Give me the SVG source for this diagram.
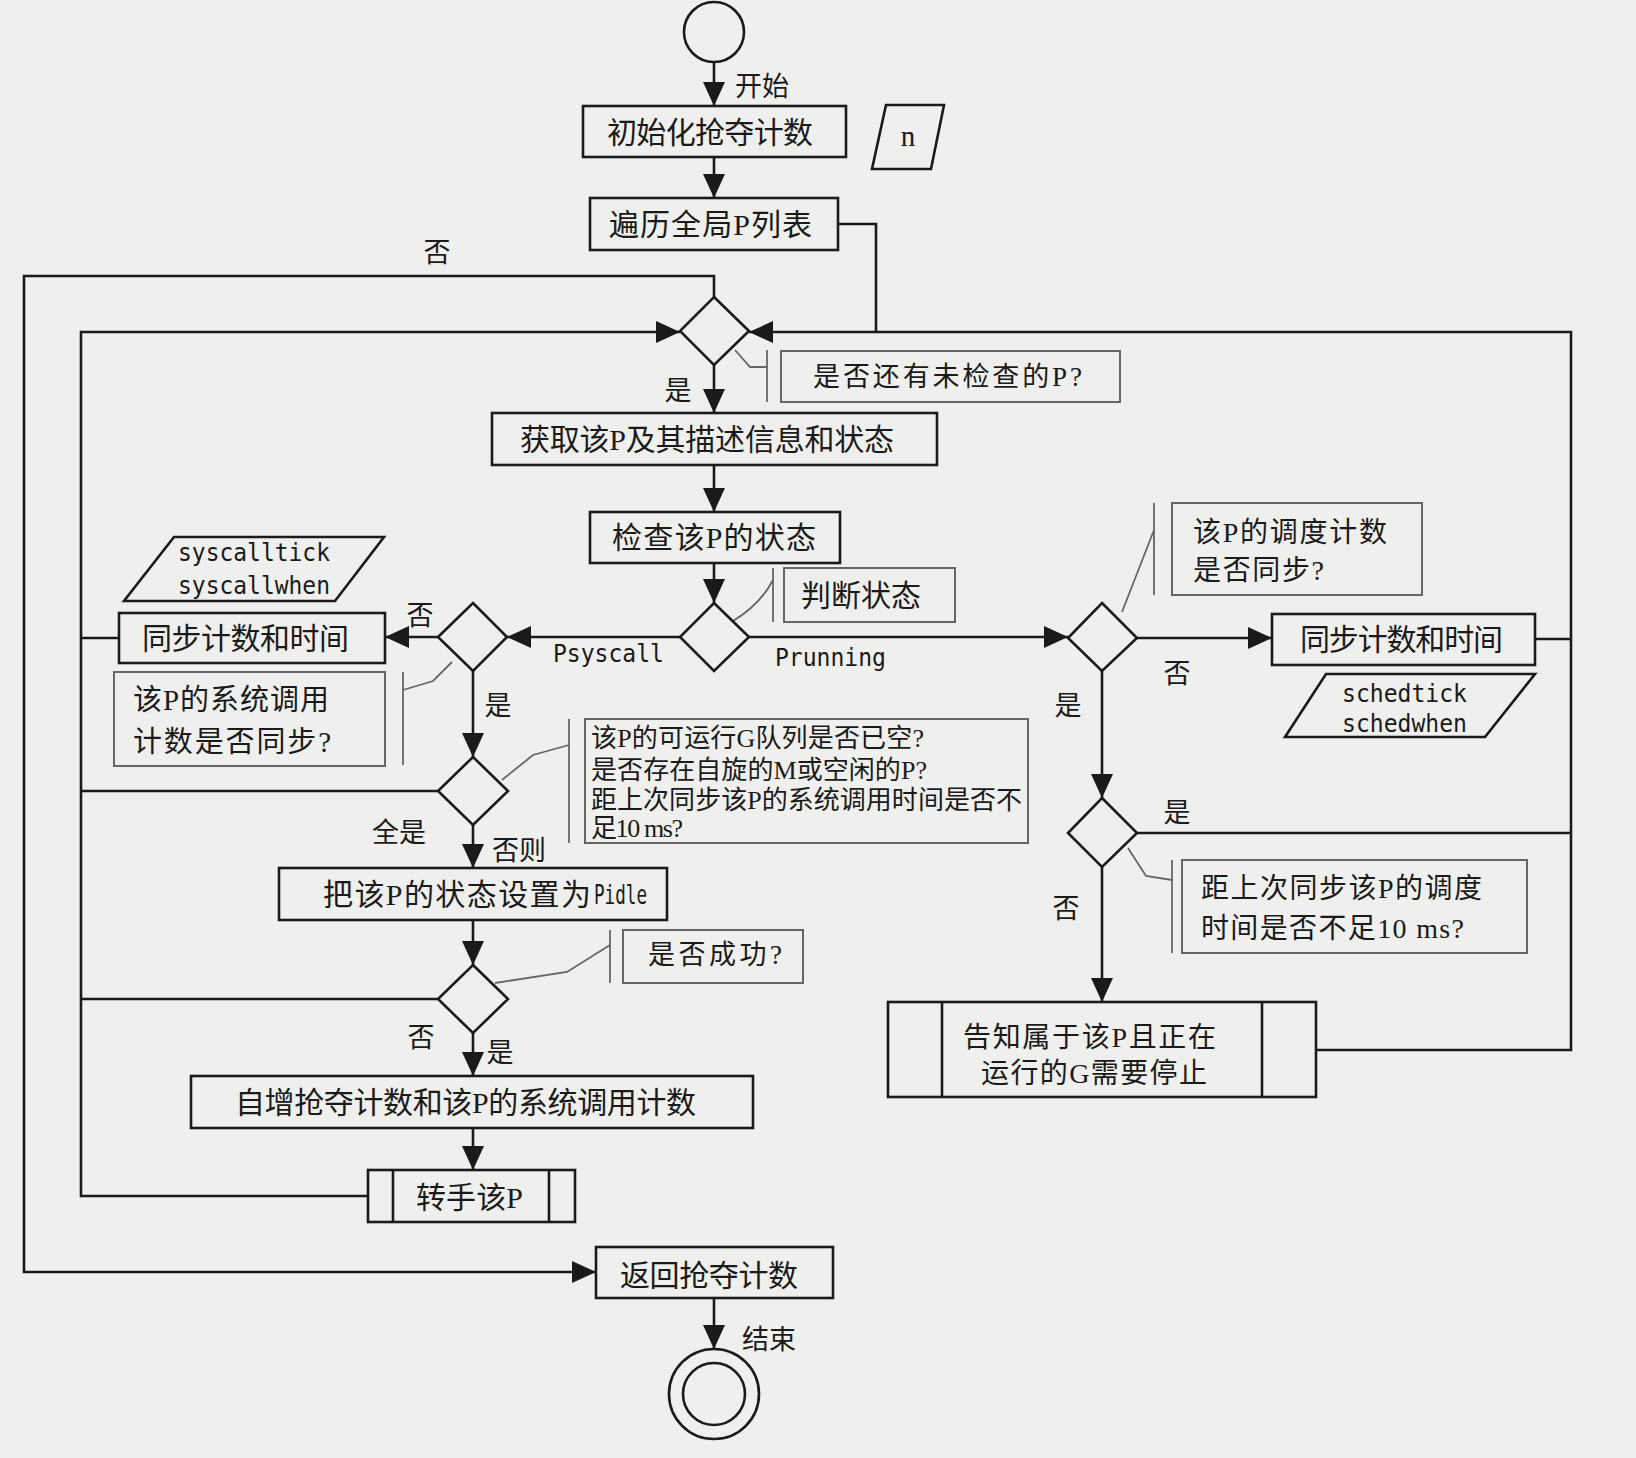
<svg xmlns="http://www.w3.org/2000/svg" width="1636" height="1458" viewBox="0 0 1636 1458">
<defs>
<marker id="ah" markerUnits="userSpaceOnUse" markerWidth="24" markerHeight="22" refX="24" refY="11" orient="auto">
<path d="M0,0 L24,11 L0,22 z" fill="#1a1a1a"/>
</marker>
<style>
.box{fill:none;stroke:#1a1a1a;stroke-width:2.6}
.ann{fill:none;stroke:#666;stroke-width:2}
.line{fill:none;stroke:#1a1a1a;stroke-width:2.6}
.aline{fill:none;stroke:#666;stroke-width:1.8}
.t{font-family:"Liberation Serif","Noto Sans CJK SC",sans-serif;font-size:30px;fill:#1a1a1a;dominant-baseline:central}
.s{font-family:"Liberation Serif","Noto Sans CJK SC",sans-serif;font-size:26px;fill:#1a1a1a;dominant-baseline:central}
.l{font-family:"Noto Sans CJK SC",sans-serif;font-size:27px;fill:#1a1a1a;dominant-baseline:central;text-anchor:middle}
.m{font-family:"DejaVu Sans Mono",monospace;font-size:25px;fill:#1a1a1a;dominant-baseline:central}
</style>
</defs>
<rect x="0" y="0" width="1636" height="1458" fill="#efefed"/>

<g id="connectors">
<path class="line" d="M714,62 V106" marker-end="url(#ah)"/>
<path class="line" d="M714,157 V198" marker-end="url(#ah)"/>
<path class="line" d="M838,224 H876 V332"/>
<path class="line" d="M714,297 V276 H24 V1272 H596" marker-end="url(#ah)"/>
<path class="line" d="M714,365 V413" marker-end="url(#ah)"/>
<path class="line" d="M714,465 V512" marker-end="url(#ah)"/>
<path class="line" d="M714,563 V603" marker-end="url(#ah)"/>
<path class="line" d="M680,637 H507" marker-end="url(#ah)"/>
<path class="line" d="M749,637 H1068" marker-end="url(#ah)"/>
<path class="line" d="M438,637 H385" marker-end="url(#ah)"/>
<path class="line" d="M119,638 H81"/>
<path class="line" d="M473,671 V757" marker-end="url(#ah)"/>
<path class="line" d="M438,791 H81"/>
<path class="line" d="M473,825 V868" marker-end="url(#ah)"/>
<path class="line" d="M473,920 V965" marker-end="url(#ah)"/>
<path class="line" d="M438,999 H81"/>
<path class="line" d="M473,1033 V1076" marker-end="url(#ah)"/>
<path class="line" d="M473,1128 V1170" marker-end="url(#ah)"/>
<path class="line" d="M368,1196 H81 V332 H680" marker-end="url(#ah)"/>
<path class="line" d="M1137,638 H1272" marker-end="url(#ah)"/>
<path class="line" d="M1535,639 H1571"/>
<path class="line" d="M1102,671 V798" marker-end="url(#ah)"/>
<path class="line" d="M1137,833 H1571"/>
<path class="line" d="M1102,867 V1002" marker-end="url(#ah)"/>
<path class="line" d="M1316,1050 H1571 V332 H749" marker-end="url(#ah)"/>
<path class="line" d="M714,1298 V1349" marker-end="url(#ah)"/>
<path class="aline" d="M735,350 L750,367 H767"/>
<path class="aline" d="M773,580 Q760,605 733,621"/>
<path class="aline" d="M403,690 L433,681 L452,662"/>
<path class="aline" d="M569,745 L533,755 L502,780"/>
<path class="aline" d="M610,945 L567,972 L495,983"/>
<path class="aline" d="M1154,530 L1122,612"/>
<path class="aline" d="M1128,848 L1146,876 L1172,880"/>
</g>

<g id="lbl-connectors">
<text class="l" x="762" y="84">开始</text>
<text class="l" x="437" y="250">否</text>
<text class="l" x="678" y="388">是</text>
<text class="m" x="553" y="653" textLength="111" lengthAdjust="spacingAndGlyphs">Psyscall</text>
<text class="m" x="775" y="657" textLength="111" lengthAdjust="spacingAndGlyphs">Prunning</text>
<text class="l" x="420" y="613">否</text>
<text class="l" x="498" y="703">是</text>
<text class="l" x="399" y="830">全是</text>
<text class="l" x="519" y="848">否则</text>
<text class="l" x="421" y="1035">否</text>
<text class="l" x="500" y="1050">是</text>
<text class="l" x="769" y="1337">结束</text>
<text class="l" x="1177" y="671">否</text>
<text class="l" x="1068" y="703">是</text>
<text class="l" x="1177" y="810">是</text>
<text class="l" x="1066" y="906">否</text>
</g>

<g id="start"><circle cx="714" cy="32" r="30" class="box"/></g>
<g id="end"><circle cx="714" cy="1394" r="45" class="box"/><circle cx="714" cy="1394" r="31" class="box"/></g>

<g id="init"><rect class="box" x="583" y="106" width="263" height="51"/>
<text class="t" x="607" y="132" textLength="206">初始化抢夺计数</text></g>
<g id="n"><polygon class="box" points="886,105 944,105 931,169 872,169"/>
<text class="t" x="908" y="136" text-anchor="middle" style="font-size:29px">n</text></g>
<g id="traverse"><rect class="box" x="590" y="198" width="248" height="52"/>
<text class="t" x="609" y="224" textLength="203">遍历全局P列表</text></g>
<g id="d1"><polygon class="box" points="714,297 749,331 714,365 680,331"/></g>
<g id="a1"><path class="aline" d="M767,350 V402"/><rect class="ann" x="781" y="351" width="339" height="51"/>
<text class="s" x="813" y="377" textLength="269" style="font-size:27px">是否还有未检查的P?</text></g>
<g id="get"><rect class="box" x="492" y="413" width="445" height="52"/>
<text class="t" x="520" y="439" textLength="374">获取该P及其描述信息和状态</text></g>
<g id="check"><rect class="box" x="590" y="512" width="250" height="51"/>
<text class="t" x="612" y="537" textLength="204">检查该P的状态</text></g>
<g id="d2"><polygon class="box" points="714,603 749,637 714,671 680,637"/></g>
<g id="a2"><path class="aline" d="M773,568 V622"/><rect class="ann" x="784" y="568" width="171" height="54"/>
<text class="t" x="801" y="595" textLength="120">判断状态</text></g>

<g id="d3"><polygon class="box" points="473,603 507,637 473,671 438,637"/></g>
<g id="syncL"><rect class="box" x="119" y="613" width="266" height="50"/>
<text class="t" x="142" y="638" textLength="207">同步计数和时间</text></g>
<g id="sysio"><polygon class="box" points="174,537 384,537 335,601 124,601"/>
<text class="m" x="178" y="552" textLength="152" lengthAdjust="spacingAndGlyphs">syscalltick</text>
<text class="m" x="178" y="585" textLength="152" lengthAdjust="spacingAndGlyphs">syscallwhen</text></g>
<g id="a3"><path class="aline" d="M403,672 V765"/><rect class="ann" x="114" y="672" width="271" height="94"/>
<text class="t" x="133" y="700" textLength="196" style="font-size:29px">该P的系统调用</text>
<text class="t" x="133" y="742" textLength="198" style="font-size:29px">计数是否同步?</text></g>
<g id="d6"><polygon class="box" points="473,757 508,791 473,825 438,791"/></g>
<g id="a4"><path class="aline" d="M569,719 V843"/><rect class="ann" x="585" y="719" width="443" height="124"/>
<text class="s" x="591" y="738" textLength="333">该P的可运行G队列是否已空?</text>
<text class="s" x="591" y="770" textLength="336">是否存在自旋的M或空闲的P?</text>
<text class="s" x="591" y="800" textLength="431">距上次同步该P的系统调用时间是否不</text>
<text class="s" x="591" y="828" textLength="92">足10 ms?</text></g>
<g id="pidle"><rect class="box" x="279" y="868" width="388" height="52"/>
<text class="t" x="323" y="894" textLength="268">把该P的状态设置为</text>
<text class="m" x="594" y="894" textLength="53" lengthAdjust="spacingAndGlyphs" style="font-size:27px">Pidle</text></g>
<g id="d7"><polygon class="box" points="473,965 508,999 473,1033 438,999"/></g>
<g id="a5"><path class="aline" d="M610,930 V983"/><rect class="ann" x="623" y="930" width="180" height="53"/>
<text class="s" x="648" y="955" textLength="134" style="font-size:27px">是否成功?</text></g>
<g id="incr"><rect class="box" x="191" y="1076" width="562" height="52"/>
<text class="t" x="235" y="1102" textLength="461">自增抢夺计数和该P的系统调用计数</text></g>
<g id="handoff"><rect class="box" x="368" y="1170" width="207" height="52"/>
<path class="box" d="M393,1170 V1222 M549,1170 V1222"/>
<text class="t" x="416" y="1197" textLength="107">转手该P</text></g>
<g id="ret"><rect class="box" x="596" y="1247" width="237" height="51"/>
<text class="t" x="620" y="1275" textLength="178">返回抢夺计数</text></g>

<g id="d4"><polygon class="box" points="1102,603 1137,638 1102,671 1068,638"/></g>
<g id="a6"><path class="aline" d="M1154,503 V595"/><rect class="ann" x="1172" y="503" width="250" height="92"/>
<text class="t" x="1193" y="532" textLength="194" style="font-size:28px">该P的调度计数</text>
<text class="t" x="1193" y="570" textLength="131" style="font-size:28px">是否同步?</text></g>
<g id="syncR"><rect class="box" x="1272" y="614" width="263" height="51"/>
<text class="t" x="1300" y="639" textLength="203">同步计数和时间</text></g>
<g id="schedio"><polygon class="box" points="1326,674 1535,674 1485,737 1285,737"/>
<text class="m" x="1342" y="693" textLength="125" lengthAdjust="spacingAndGlyphs">schedtick</text>
<text class="m" x="1342" y="723" textLength="125" lengthAdjust="spacingAndGlyphs">schedwhen</text></g>
<g id="d5"><polygon class="box" points="1102,798 1137,833 1102,867 1068,833"/></g>
<g id="a7"><path class="aline" d="M1172,860 V953"/><rect class="ann" x="1182" y="860" width="345" height="93"/>
<text class="t" x="1201" y="888" textLength="281" style="font-size:28px">距上次同步该P的调度</text>
<text class="t" x="1201" y="928" textLength="263" style="font-size:28px">时间是否不足10 ms?</text></g>
<g id="notify"><rect class="box" x="888" y="1002" width="428" height="95"/>
<path class="box" d="M942,1002 V1097 M1262,1002 V1097"/>
<text class="t" x="963" y="1037" textLength="253" style="font-size:28px">告知属于该P且正在</text>
<text class="t" x="981" y="1073" textLength="226" style="font-size:28px">运行的G需要停止</text></g>
</svg>
